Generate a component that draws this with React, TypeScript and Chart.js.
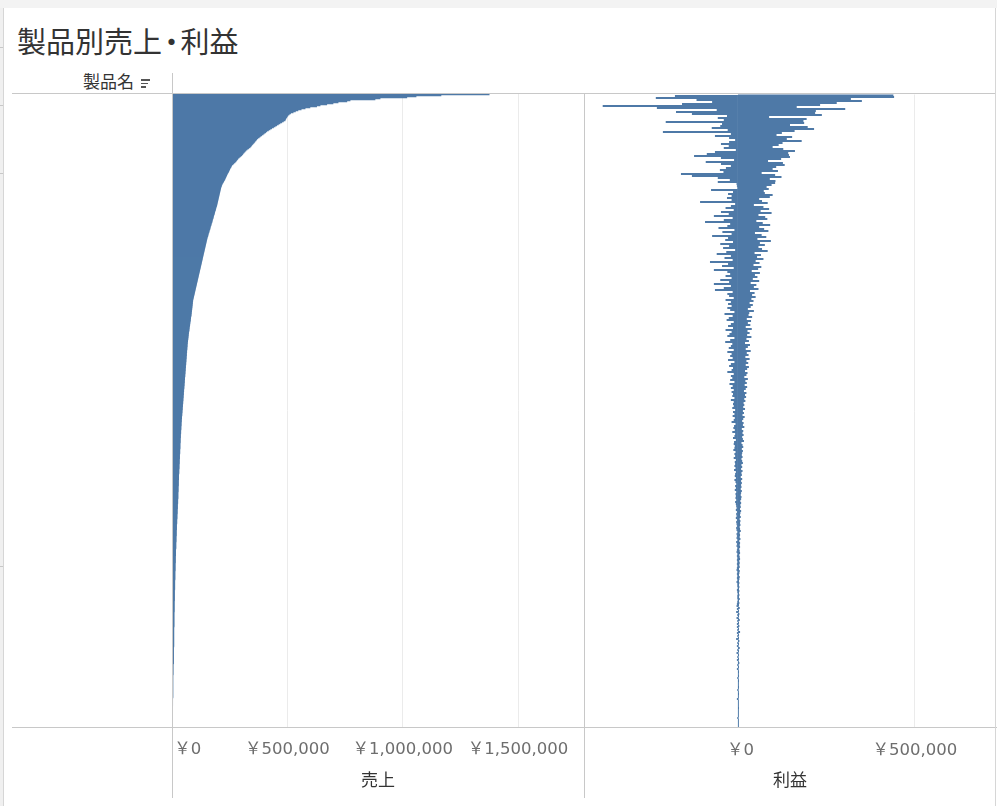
import React, { useEffect, useRef } from 'react';
import { Chart, registerables } from 'chart.js';

Chart.register(...registerables);

// 売上 (千円) — products sorted by sales, descending
const salesK: number[] = [
  1375,1166,1058,1018,902,880,772,758,720,698,671,642,627,598,577,560,546,535,525,514,508,
  503,500,497,494,492,490,483,476,468,461,
  454,447,440,432,425,418,411,406,400,395,
  389,383,378,372,367,364,360,357,353,349,
  345,342,338,332,326,321,317,313,309,306,
  302,297,292,287,284,280,277,273,268,264,
  259,257,255,252,250,248,246,244,241,239,
  237,235,233,231,229,227,224,222,219,217,
  215,214,212,211,210,209,208,207,206,205,
  204,203,202,201,200,199,198,197,196,195,
  194,193,191,190,189,188,186,185,184,183,
  181,180,179,178,176,175,174,173,171,170,
  169,167,166,165,164,162,161,160,158,157,
  156,155,153,152,151,150,149,148,147,146,
  145,144,143,142,141,140,139,138,137,136,
  135,134,133,132,131,130,129,128,127,126,
  125,124,123,122,121,120,119,118,117,116,
  115,114,113,112,111,110,109,108,107,106,
  105,104,103,102,101,100,99,98,97,96,
  95,94,93,92,91,90,90,89,89,88,
  88,87,87,86,86,85,85,84,84,83,
  83,82,81,81,80,80,79,78,78,77,
  77,76,75,75,74,74,73,72,72,71,
  71,70,70,69,69,68,68,67,67,66,
  66,66,65,65,65,64,64,64,63,63,
  63,62,62,62,61,61,61,60,60,60,
  59,59,59,58,58,58,57,57,57,56,
  56,56,55,55,55,54,54,54,53,53,
  53,52,52,52,51,51,51,50,50,50,
  49,49,49,48,48,48,47,47,47,46,
  46,46,45,45,45,44,44,44,43,43,
  43,42,42,42,41,41,41,40,40,40,
  40,39,39,39,39,38,38,38,38,37,
  37,37,37,36,36,36,36,36,35,35,
  35,35,35,35,34,34,34,34,34,33,
  33,33,33,33,32,32,32,32,32,31,
  31,31,31,31,30,30,30,30,30,29,
  29,29,29,29,29,28,28,28,28,28,
  28,27,27,27,27,27,27,26,26,26,
  26,26,26,26,25,25,25,25,25,24,
  24,24,24,24,23,23,23,23,23,22,
  22,22,22,22,21,21,21,21,21,20,
  20,20,20,20,20,19,19,19,19,19,
  19,18,18,18,18,18,18,17,17,17,
  17,17,17,17,16,16,16,16,16,16,
  16,15,15,15,15,15,15,15,14,14,
  14,14,14,14,14,14,13,13,13,13,
  13,13,13,13,13,12,12,12,12,12,
  12,12,12,12,12,11,11,11,11,11,
  11,11,11,11,11,11,10,10,10,10,
  10,10,10,10,10,10,10,9,9,9,
  9,9,9,9,9,9,9,9,9,9,
  9,9,8,8,8,8,8,8,8,8,
  8,8,8,8,8,8,8,8,8,8,
  8,8,7,7,7,7,7,7,7,7,
  7,7,7,7,7,7,7,7,7,5,
  5,5,5,5,5,5,5,5,5,5,
  4,4,4,4,4,4,4,4,4,4,
  4,4,4,4,4,4,4,4,4,4,
  4,4,4,3,3,3,3,3,3,3,
  3,2,2,2,2,2,2,2,2,2,
  1.5,1.5,1.5,1.5,1,1,1,1,1,0.5,0.5,0.3,
];

// 利益 (千円) — same product order
const profitK: number[] = [
  439,-178,441,-232,319,-117,350,-73,279,-158,
  232,-382,166,-229,303,-60,220,-175,218,-130,
  237,-31,88,-57,194,-40,185,-204,187,-45,
  147,-50,197,-74,215,-29,160,-212,124,-20,
  109,-65,153,-25,138,-8,180,-25,126,-48,
  115,-26,98,-40,128,-6,161,-65,142,-88,
  144,-124,147,-48,122,-11,85,-91,127,-48,
  132,-20,108,-34,98,-51,113,-41,67,-161,
  105,-130,123,-57,90,-23,106,-57,105,-4,
  95,-3,81,-2,87,-76,73,-14,76,-28,
  98,-18,90,-31,60,-18,68,-107,84,-8,
  45,-20,72,-35,88,-12,64,-48,95,-26,
  58,-68,77,-15,83,-40,52,-93,70,-22,
  91,-30,60,-55,74,-10,86,-44,48,-18,
  67,-73,80,-28,55,-36,93,-14,62,-50,
  76,-25,58,-42,68,-8,84,-33,47,-60,
  65,-20,54,-38,72,-15,50,-79,61,-28,
  44,-45,66,-12,57,-68,39,-30,62,-22,
  48,-35,55,-18,42,-50,60,-25,36,-68,
  52,-20,45,-40,58,-65,34,-15,47,-30,
  40,-25,50,-12,38,-35,44,-20,33,-28,
  42,-18,36,-30,28,-22,45,-10,32,-38,
  30,-15,40,-26,25,-32,37,-12,28,-20,
  35,-28,22,-14,39,-35,27,-18,33,-24,
  26,-30,38,-10,24,-22,31,-36,20,-16,
  34,-20,28,-26,22,-12,36,-30,25,-18,
  30,-22,21,-15,33,-28,24,-10,29,-20,
  22,-25,31,-14,26,-18,20,-30,27,-12,
  24,-20,18,-16,28,-22,21,-10,25,-24,
  19,-15,26,-20,22,-12,17,-18,24,-14,
  20,-16,23,-10,18,-20,21,-12,16,-14,
  18,-12,15,-16,20,-8,14,-14,17,-10,
  13,-15,19,-9,15,-12,12,-18,16,-7,
  14,-11,18,-13,11,-9,15,-16,13,-8,
  16,-10,12,-14,14,-6,17,-11,10,-12,
  13,-9,15,-10,11,-13,14,-7,12,-10,
  11,-8,13,-12,10,-6,12,-9,14,-8,
  10,-10,12,-7,9,-11,13,-6,10,-8,
  11,-9,8,-6,12,-10,9,-7,11,-5,
  9,-8,10,-6,8,-9,11,-5,9,-7,
  8,-6,10,-7,9,-5,7,-8,9,-6,
  7,-5,8,-4,6,-6,9,-3,7,-5,
  6,-4,8,-6,5,-3,7,-5,6,-4,
  7,-3,5,-5,6,-4,8,-2,5,-4,
  6,-3,5,-4,7,-2,4,-5,6,-3,
  5,-4,6,-2,4,-3,5,-4,6,-2,
  4,-3,5,-2,6,-3,4,-2,5,-3,
  4,-2,5,-3,3,-4,5,-2,4,-3,
  3,-2,5,-3,4,-2,3,-4,4,-2,
  3,-2,4,-1,3,-3,4,-2,3,-1,
  4,-2,3,-2,5,-1,3,-2,4,-3,
  3,-4,2,5,-3,2,3,-5,2,4,
  -2,3,2,-4,3,5,-2,2,3,-3,
  2,4,-3,2,3,-2,2,6,-3,2,
  3,-2,2,3,-5,2,4,2,-2,3,
  2,-3,2,5,2,-2,3,2,-4,2,
  3,2,-2,2,3,-3,2,2,4,2,
  -2,2,3,2,-3,2,2,3,2,2,
  2,3,2,-2,2,2,3,2,2,2,
  2,2,3,2,2,-2,2,2,2,3,
  2,2,2,2,-3,2,2,2,2,2,
  2,2,2,3,2,2,2,2,2,2,
  2,2,2,-2,2,2,2,2,2,2,2,2,2,
];

const productNames: string[] = salesK.map((_, i) => `製品 ${i + 1}`);

const salesTicks = [0, 500000, 1000000, 1500000];
const profitTicks = [0, 500000];
const SALES_RANGE = [0, 1786000];
const PROFIT_RANGE = [-432000, 726000];

const TITLE_A = '製品別売上';
const TITLE_DOT = '・';
const TITLE_B = '利益';
const ROW_HEADER = '製品名';
const SALES_LABEL = '売上';
const PROFIT_LABEL = '利益';

const BAR_COLOR = '#4e79a7';
const LINE = '#c8c8c8';
const JP = "'Noto Sans CJK JP', 'Noto Sans', sans-serif";
const TICK_FAMILY = "'DejaVu Sans', 'Noto Sans CJK JP', sans-serif";

const yen = (v: number) => '\uFFE5' + Math.round(v).toLocaleString('en-US');

function baseOptions(opts: {
  range: number[];
  ticks: number[];
  title: string;
  padding: any;
  axisHeight: number;
  zeroLabelPrefix: string;
}) {
  return {
    indexAxis: 'y' as const,
    responsive: false,
    animation: false as const,
    layout: { padding: opts.padding },
    plugins: { legend: { display: false }, tooltip: { enabled: false } },
    scales: {
      y: { display: false, grid: { display: false } },
      x: {
        type: 'linear' as const,
        position: 'bottom' as const,
        min: opts.range[0],
        max: opts.range[1],
        afterBuildTicks: (scale: any) => {
          scale.ticks = opts.ticks.map((v) => ({ value: v }));
        },
        afterFit: (scale: any) => {
          scale.height = opts.axisHeight;
        },
        border: { display: false },
        grid: {
          drawTicks: false,
          lineWidth: (ctx: any) => (ctx.tick && ctx.tick.value === 0 ? 0 : 1),
          color: '#ebebeb',
        },
        ticks: {
          autoSkip: false,
          maxRotation: 0,
          padding: 13,
          color: '#6e6e6e',
          font: { family: TICK_FAMILY, size: 16.5 },
          callback: (v: any) => (Number(v) === 0 ? opts.zeroLabelPrefix + yen(0) : yen(Number(v))),
        },
        title: {
          display: true,
          text: opts.title,
          color: '#333333',
          font: { family: JP, size: 17 },
          padding: { top: 0, bottom: 10 },
        },
      },
    },
  };
}

function Line({ x, y, w, h, c = LINE }: { x: number; y: number; w: number; h: number; c?: string }) {
  return <div style={{ position: 'absolute', left: x, top: y, width: w, height: h, background: c }} />;
}

export default function App() {
  const salesRef = useRef<HTMLCanvasElement>(null);
  const profitRef = useRef<HTMLCanvasElement>(null);

  useEffect(() => {
    const salesChart = new Chart(salesRef.current as HTMLCanvasElement, {
      type: 'bar',
      data: {
        labels: productNames,
        datasets: [
          {
            label: SALES_LABEL,
            data: salesK.map((v) => v * 1000),
            backgroundColor: BAR_COLOR,
            borderWidth: 0,
            barPercentage: 1,
            categoryPercentage: 1,
          },
        ],
      },
      options: baseOptions({
        range: SALES_RANGE,
        ticks: salesTicks,
        title: SALES_LABEL,
        padding: { left: 72, right: 10, top: 1, bottom: 0 },
        axisHeight: 73,
        zeroLabelPrefix: '      ',
      }) as any,
    });
    const profitChart = new Chart(profitRef.current as HTMLCanvasElement, {
      type: 'bar',
      data: {
        labels: productNames,
        datasets: [
          {
            label: PROFIT_LABEL,
            data: profitK.map((v) => v * 1000),
            backgroundColor: BAR_COLOR,
            borderWidth: 0,
            barPercentage: 2,
            categoryPercentage: 1,
          },
        ],
      },
      options: baseOptions({
        range: PROFIT_RANGE,
        ticks: profitTicks,
        title: PROFIT_LABEL,
        padding: { left: 25, right: 5, top: 1.5, bottom: 0 },
        axisHeight: 72.5,
        zeroLabelPrefix: ' ',
      }) as any,
    });
    return () => {
      salesChart.destroy();
      profitChart.destroy();
    };
  }, []);

  return (
    <div
      style={{
        position: 'absolute',
        left: 0,
        top: 0,
        width: 997,
        height: 806,
        background: '#ffffff',
        overflow: 'hidden',
        fontFamily: JP,
      }}
    >
      {/* window chrome */}
      <Line x={0} y={0} w={997} h={8} c="#f3f3f3" />
      <Line x={0} y={8} w={3} h={798} c="#f0f0f0" />
      <Line x={3} y={8} w={1} h={798} c="#d6d6d6" />
      {[47, 105, 173, 566].map((y) => (
        <Line key={y} x={0} y={y} w={3} h={1} c="#c8c8c8" />
      ))}

      <div
        style={{
          position: 'absolute',
          left: 17,
          top: 26,
          fontSize: 29,
          lineHeight: '29px',
          color: '#333333',
          whiteSpace: 'nowrap',
        }}
      >
        {TITLE_A}
        <span style={{ display: 'inline-block', margin: '0 -5.5px 0 -5px' }}>{TITLE_DOT}</span>
        {TITLE_B}
      </div>

      <div
        style={{
          position: 'absolute',
          left: 83,
          top: 72,
          fontSize: 17,
          lineHeight: '18px',
          color: '#333333',
          whiteSpace: 'nowrap',
        }}
      >
        {ROW_HEADER}
      </div>
      <Line x={141} y={79} w={9} h={1.5} c="#555" />
      <Line x={141} y={82.5} w={7} h={1.5} c="#555" />
      <Line x={141} y={86} w={5} h={1.5} c="#555" />

      <canvas
        ref={salesRef}
        width={494}
        height={707}
        style={{ position: 'absolute', left: 100, top: 93, width: 494, height: 707 }}
      />
      <canvas
        ref={profitRef}
        width={440}
        height={707}
        style={{ position: 'absolute', left: 560, top: 93, width: 440, height: 707 }}
      />

      {/* table frame lines */}
      <Line x={12} y={93} w={983} h={1} />
      <Line x={12} y={727} w={985} h={1} />
      <Line x={172} y={73} w={1} h={725} />
      <Line x={584} y={93} w={1} h={705} />
      <Line x={995} y={8} w={1} h={798} c="#d6d6d6" />
    </div>
  );
}
